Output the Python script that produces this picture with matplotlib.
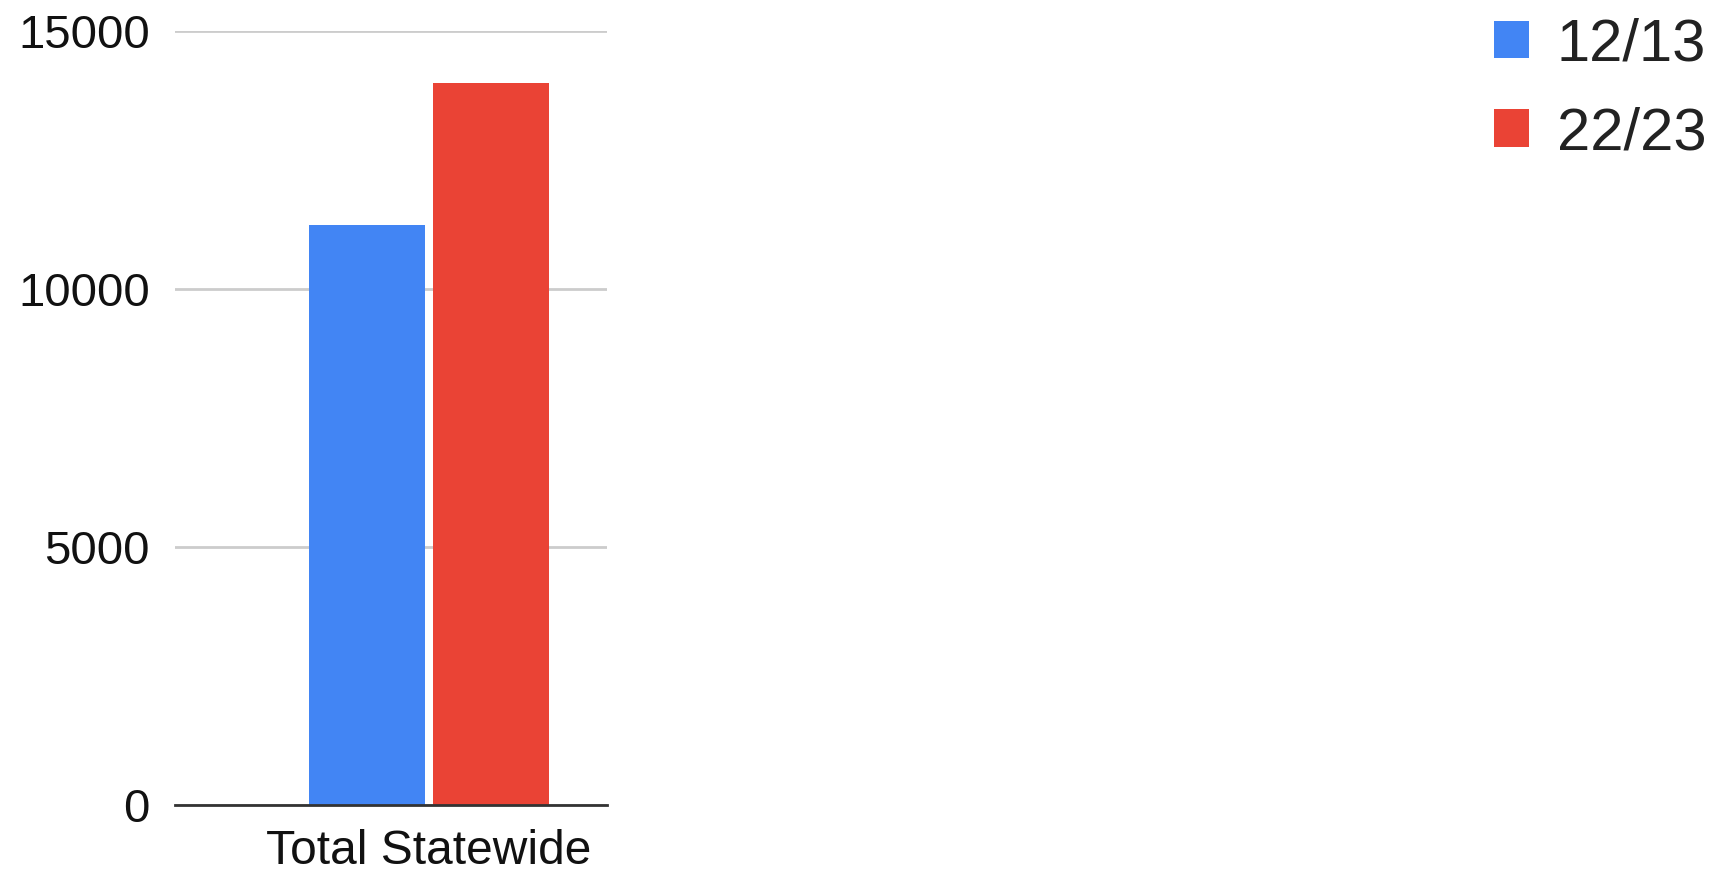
import matplotlib.pyplot as plt
from matplotlib.patches import Patch

plt.rcParams['font.family'] = ['Liberation Sans', 'DejaVu Sans']

categories = ["Total Statewide"]
series_names = ["12/13", "22/23"]
values_1213 = [11240]
values_2223 = [13990]
colors = ["#4285F4", "#EA4335"]

fig = plt.figure(figsize=(17.14, 8.72), dpi=100)
ax = fig.add_axes([0.1021, 0.0768, 0.252, 0.888])

w = 0.2685
gap = 0.0185
x = list(range(len(categories)))
ax.bar([i - (w + gap) / 2 for i in x], values_1213, width=w, color=colors[0], zorder=3)
ax.bar([i + (w + gap) / 2 for i in x], values_2223, width=w, color=colors[1], zorder=3)

ax.set_xlim(-0.5878, 0.4122)
ax.set_ylim(0, 15000)
ax.set_yticks([0, 5000, 10000, 15000])
ax.set_xticks(x)
ax.set_xticklabels(categories)

ax.grid(axis="y", color="#cccccc", linewidth=2, zorder=0)
for s in ["top", "right", "left"]:
    ax.spines[s].set_visible(False)
ax.spines["bottom"].set_color("#333333")
ax.spines["bottom"].set_linewidth(2)
ax.spines["bottom"].set_zorder(4)
ax.tick_params(axis="y", length=0, labelsize=34, colors="#111111", pad=18)
ax.tick_params(axis="x", length=0, labelsize=34.5, colors="#111111", pad=17)

handles = [Patch(facecolor=c, edgecolor="none") for c in colors]
fig.legend(handles, series_names, loc="upper right", bbox_to_anchor=(1.013, 1.014),
           frameon=False, fontsize=43, handlelength=0.58, handleheight=0.58,
           handletextpad=0.47, labelspacing=0.56, borderaxespad=0.1, labelcolor="#222222")

fig.savefig("out.png", dpi=100)
